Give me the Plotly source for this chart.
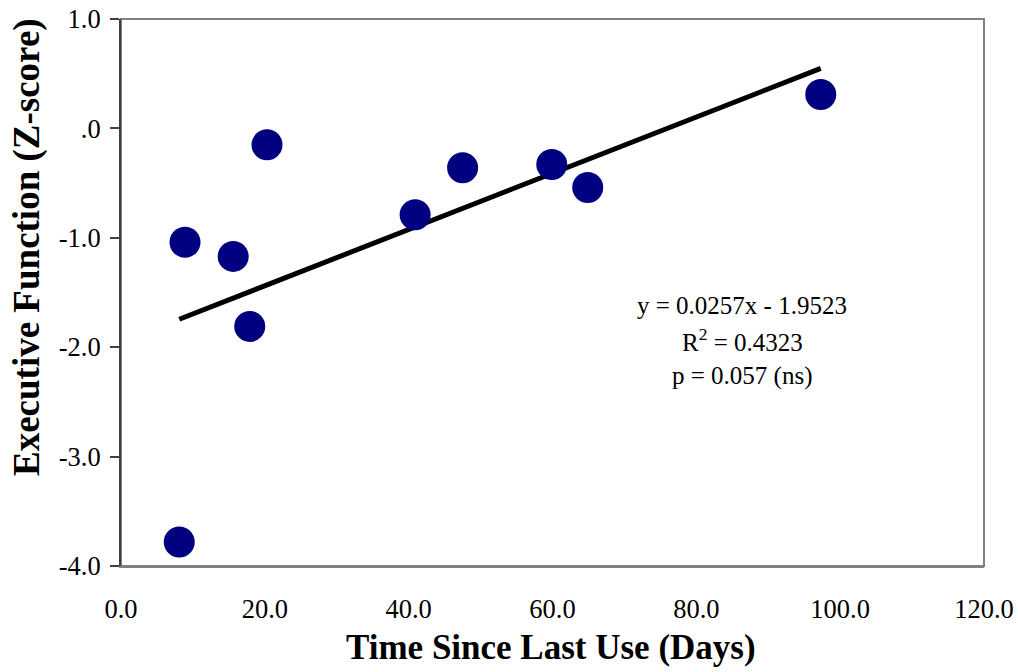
import plotly.graph_objects as go

# Data
days = [8.1, 8.9, 15.6, 17.9, 20.3, 40.9, 47.5, 59.9, 64.9, 97.3]
exec_z = [-3.78, -1.04, -1.17, -1.81, -0.15, -0.79, -0.36, -0.33, -0.54, 0.31]

slope = 0.0257
intercept = -1.9523

x_ticks = [0, 20, 40, 60, 80, 100, 120]
x_ticktext = ["0.0", "20.0", "40.0", "60.0", "80.0", "100.0", "120.0"]
y_ticks = [1, 0, -1, -2, -3, -4]
y_ticktext = ["1.0", ".0", "-1.0", "-2.0", "-3.0", "-4.0"]

stat_lines = ["y = 0.0257x - 1.9523", "R<sup>2</sup> = 0.4323", "p = 0.057 (ns)"]

FONT = "Liberation Serif, Times New Roman, serif"

trend_x = [min(days), max(days)]
trend_y = [slope * v + intercept for v in trend_x]

fig = go.Figure()
fig.add_trace(go.Scatter(
    x=trend_x, y=trend_y, mode="lines",
    line=dict(color="black", width=5),
    showlegend=False, hoverinfo="skip"))
fig.add_trace(go.Scatter(
    x=days, y=exec_z, mode="markers",
    marker=dict(color="#000080", size=31, line=dict(width=0)),
    showlegend=False))

W, H = 1018, 672
L, R, T, B = 121, 34, 19, 106
PW, PH = W - L - R, H - T - B

fig.update_layout(
    width=W, height=H,
    margin=dict(l=L, r=R, t=T, b=B, autoexpand=False),
    paper_bgcolor="white", plot_bgcolor="white",
    font=dict(family=FONT, color="black", size=26.5),
    xaxis=dict(range=[0, 120], tickvals=x_ticks, ticktext=x_ticktext,
               showgrid=False, zeroline=False, showline=True,
               linecolor="#808080", linewidth=2, ticks="",
               ticklabelstandoff=18,
               tickfont=dict(family=FONT, size=26.5, color="black")),
    yaxis=dict(range=[-4, 1], tickvals=y_ticks, ticktext=y_ticktext,
               showgrid=False, zeroline=False, showline=True,
               linecolor="#404040", linewidth=2, ticks="outside",
               ticklen=9, tickwidth=1.5, tickcolor="#404040",
               ticklabelstandoff=4,
               tickfont=dict(family=FONT, size=26.5, color="black")),
    shapes=[dict(type="rect", xref="paper", yref="paper", x0=0, y0=0, x1=1, y1=1,
                 line=dict(color="#808080", width=2), layer="below")],
)

# axis titles
fig.add_annotation(text="<b>Time Since Last Use (Days)</b>", xref="paper", yref="paper",
                   x=(551 - L) / PW, y=-(647 - (T + PH)) / PH, xanchor="center", yanchor="middle",
                   showarrow=False, font=dict(family=FONT, size=35, color="black"))
fig.add_annotation(text="<b>Executive Function (Z-score)</b>", xref="paper", yref="paper",
                   x=(27 - L) / PW, y=(T + PH - 247) / PH, xanchor="center", yanchor="middle",
                   textangle=-90,
                   showarrow=False, font=dict(family=FONT, size=37, color="black"))

# regression statistics
stat_y = [-1.62, -1.93, -2.26]
for txt, yy in zip(stat_lines, stat_y):
    fig.add_annotation(text=txt, x=86.4, y=yy, xref="x", yref="y",
                       xanchor="center", yanchor="middle", showarrow=False,
                       font=dict(family=FONT, size=25, color="black"))

fig.write_html("out.html", config={"displayModeBar": False},
               post_script="document.body.style.margin='0';document.body.style.padding='0';")
